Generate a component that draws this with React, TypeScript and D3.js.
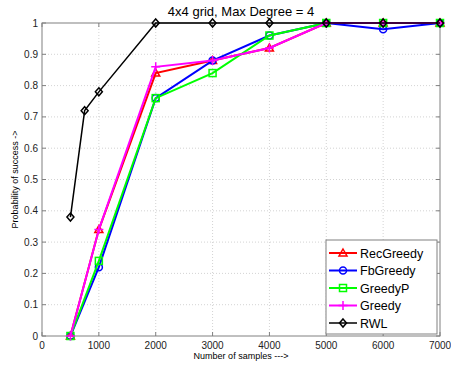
import React from "react";
import * as d3 from "d3";

const samplesMain = [500, 1000, 2000, 3000, 4000, 5000, 6000, 7000];
const samplesRWL = [500, 750, 1000, 2000, 3000, 4000, 5000, 6000, 7000];
const recGreedy = [0, 0.34, 0.84, 0.88, 0.92, 1, 1, 1];
const fbGreedy = [0, 0.22, 0.76, 0.88, 0.96, 1, 0.98, 1];
const greedyP = [0, 0.24, 0.76, 0.84, 0.96, 1, 1, 1];
const greedy = [0, 0.34, 0.86, 0.88, 0.92, 1, 1, 1];
const rwl = [0.38, 0.72, 0.78, 1, 1, 1, 1, 1, 1];
const xTicks = [0, 1000, 2000, 3000, 4000, 5000, 6000, 7000];
const yTicks = [0, 0.1, 0.2, 0.3, 0.4, 0.5, 0.6, 0.7, 0.8, 0.9, 1];

const series = [
  { name: "RecGreedy", xs: samplesMain, ys: recGreedy, color: "#ff0000", marker: "tri", w: 2 },
  { name: "FbGreedy", xs: samplesMain, ys: fbGreedy, color: "#0000ff", marker: "circ", w: 2 },
  { name: "GreedyP", xs: samplesMain, ys: greedyP, color: "#00ff00", marker: "sq", w: 2 },
  { name: "Greedy", xs: samplesMain, ys: greedy, color: "#ff00ff", marker: "plus", w: 2 },
  { name: "RWL", xs: samplesRWL, ys: rwl, color: "#000000", marker: "dia", w: 1.5 },
];

const W = 451, H = 366;
const L = 42, R = 440, T = 23, B = 336;
const x = d3.scaleLinear().domain([0, 7000]).range([L, R]);
const y = d3.scaleLinear().domain([0, 1]).range([B, T]);

function Marker({ type, cx, cy, color }: { type: string; cx: number; cy: number; color: string }) {
  const s = 3.5;
  const common = { fill: "none", stroke: color, strokeWidth: 1.5 };
  if (type === "tri")
    return <path d={`M${cx},${cy - s - 0.5}L${cx + s + 0.5},${cy + s - 0.5}L${cx - s - 0.5},${cy + s - 0.5}Z`} {...common} />;
  if (type === "circ") return <circle cx={cx} cy={cy} r={s} {...common} />;
  if (type === "sq") return <rect x={cx - s} y={cy - s} width={2 * s} height={2 * s} {...common} />;
  if (type === "plus")
    return <path d={`M${cx - 4.5},${cy}H${cx + 4.5}M${cx},${cy - 4.5}V${cy + 4.5}`} {...common} />;
  return <path d={`M${cx},${cy - 4}L${cx + 3.5},${cy}L${cx},${cy + 4}L${cx - 3.5},${cy}Z`} {...common} />;
}

export default function App() {
  const line = d3.line<[number, number]>().x((d) => x(d[0])).y((d) => y(d[1]));
  const font = "'Liberation Sans', Arial, sans-serif";
  const axisColor = "#808080";
  const legX = 326, legY = 240, legW = 111, legH = 94;
  return (
    <svg width={W} height={H} style={{ position: "absolute", left: 0, top: 0, background: "#fff" }} fontFamily={font}>
      <rect x={0} y={0} width={W} height={H} fill="#fff" />
      {/* grid */}
      {xTicks.slice(1, -1).map((t) => (
        <line key={"gx" + t} x1={x(t)} x2={x(t)} y1={T} y2={B} stroke="#c8c8c8" strokeWidth={0.8} strokeDasharray="1,2" />
      ))}
      {yTicks.slice(1, -1).map((t) => (
        <line key={"gy" + t} x1={L} x2={R} y1={y(t)} y2={y(t)} stroke="#c8c8c8" strokeWidth={0.8} strokeDasharray="1,2" />
      ))}
      {/* frame */}
      <rect x={L} y={T} width={R - L} height={B - T} fill="none" stroke={axisColor} strokeWidth={1} />
      {xTicks.map((t) => (
        <g key={"xt" + t}>
          <line x1={x(t)} x2={x(t)} y1={B} y2={B - 4} stroke={axisColor} />
          <line x1={x(t)} x2={x(t)} y1={T} y2={T + 4} stroke={axisColor} />
          <text x={x(t)} y={B + 13} fontSize={10} textAnchor="middle" fill="#222">{t}</text>
        </g>
      ))}
      {yTicks.map((t) => (
        <g key={"yt" + t}>
          <line x1={L} x2={L + 4} y1={y(t)} y2={y(t)} stroke={axisColor} />
          <line x1={R} x2={R - 4} y1={y(t)} y2={y(t)} stroke={axisColor} />
          <text x={L - 4} y={y(t) + 3.5} fontSize={10} textAnchor="end" fill="#222">{d3.format("~g")(t)}</text>
        </g>
      ))}
      {/* series */}
      {series.map((s) => (
        <g key={s.name}>
          <path d={line(s.xs.map((v, i) => [v, s.ys[i]] as [number, number])) || ""} fill="none" stroke={s.color} strokeWidth={s.w} />
          {s.xs.map((v, i) => (
            <Marker key={i} type={s.marker} cx={x(v)} cy={y(s.ys[i])} color={s.color} />
          ))}
        </g>
      ))}
      {/* title & labels */}
      <text x={241} y={16} fontSize={13} textAnchor="middle" fill="#000">4x4 grid, Max Degree = 4</text>
      <text x={241} y={359} fontSize={9} textAnchor="middle" fill="#000">Number of samples ---&gt;</text>
      <text transform={`translate(18,${(T + B) / 2}) rotate(-90)`} fontSize={9} textAnchor="middle" fill="#000">Probability of success -&gt;</text>
      {/* legend */}
      <rect x={legX} y={legY} width={legW} height={legH} fill="#fff" stroke={axisColor} strokeWidth={1} />
      {series.map((s, i) => {
        const ly = 253 + i * 17.5;
        return (
          <g key={"lg" + s.name}>
            <line x1={329} x2={357} y1={ly} y2={ly} stroke={s.color} strokeWidth={s.w} />
            <Marker type={s.marker} cx={343} cy={ly} color={s.color} />
            <text x={360} y={ly + 4.5} fontSize={12.5} fill="#000">{s.name}</text>
          </g>
        );
      })}
    </svg>
  );
}
